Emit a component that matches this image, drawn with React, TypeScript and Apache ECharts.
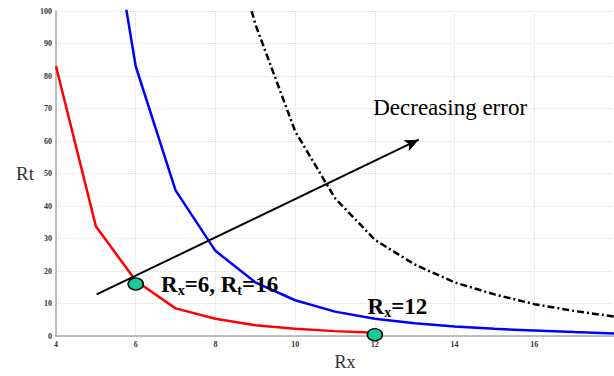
import React, { useEffect, useRef } from "react";
import * as echarts from "echarts";

const redCurve: [number, number][] = [
  [4, 83], [5, 33.8], [6, 17], [7, 8.5], [8, 5.3], [9, 3.3], [10, 2.2], [11, 1.5], [12, 1.0],
];
const blueCurve: [number, number][] = [
  [5, 157], [6, 83], [7, 44.8], [8, 26.2], [9, 16.5], [10, 11], [11, 7.5], [12, 5.3],
  [13, 3.9], [14, 2.9], [15, 2.2], [16, 1.7], [17, 1.2], [18, 0.8],
];
const blackCurve: [number, number][] = [
  [8, 140], [9, 96], [10, 63], [11, 42.4], [12, 29.6], [13, 22], [14, 16.5],
  [15, 12.8], [16, 9.8], [17, 7.7], [18, 6],
];
const arrowStart: [number, number] = [5.02, 12.8];
const arrowEnd: [number, number] = [13.1, 60.4];
const optimumPoints: [number, number][] = [[6, 16], [12, 0.4]];
const xTicks = { min: 4, max: 18, interval: 2 };
const yTicks = { min: 0, max: 100, interval: 10 };

const serif = "'Liberation Serif', 'DejaVu Serif', serif";

export default function App() {
  const ref = useRef<HTMLDivElement>(null);
  useEffect(() => {
    if (!ref.current) return;
    const chart = echarts.init(ref.current, undefined, { renderer: "svg" });
    const rich = {
      b: { fontFamily: serif, fontWeight: "bold", fontSize: 23, color: "#000" },
      s: { fontFamily: serif, fontWeight: "bold", fontSize: 14, color: "#000", padding: [12, 0, 0, 0] },
    };
    chart.setOption({
      animation: false,
      backgroundColor: "#fff",
      grid: { left: 56, right: -4, top: 11, bottom: 37 },
      xAxis: {
        type: "value",
        min: xTicks.min,
        max: xTicks.max,
        interval: xTicks.interval,
        name: "Rx",
        nameLocation: "middle",
        nameGap: 17,
        nameTextStyle: { fontFamily: serif, fontSize: 18, color: "#333", padding: [0, 0, 0, 20] },
        axisLine: { lineStyle: { color: "#aaa", width: 1.5 } },
        axisTick: { show: false },
        axisLabel: {
          margin: 4,
          fontFamily: serif,
          fontWeight: "bold",
          fontSize: 8,
          color: "#333",
          showMaxLabel: false,
        },
        splitLine: { lineStyle: { color: "#ddd", type: "dotted" } },
      },
      yAxis: {
        type: "value",
        min: yTicks.min,
        max: yTicks.max,
        interval: yTicks.interval,
        name: "Rt",
        nameLocation: "middle",
        nameRotate: 0,
        nameGap: 22,
        nameTextStyle: { fontFamily: serif, fontSize: 19, color: "#333", padding: [0, 0, 22, 0] },
        axisLine: { show: true, lineStyle: { color: "#aaa", width: 1.5 } },
        axisTick: { show: false },
        axisLabel: { margin: 4, fontFamily: serif, fontWeight: "bold", fontSize: 8, color: "#333" },
        splitLine: { lineStyle: { color: "#ddd", type: "dotted" } },
      },
      series: [
        {
          type: "line",
          data: blackCurve,
          symbol: "none",
          lineStyle: { color: "#000", width: 2.5, type: [7, 3, 2, 3] },
          clip: true,
          z: 3,
        },
        {
          type: "line",
          data: blueCurve,
          symbol: "none",
          lineStyle: { color: "#0000ff", width: 2.5 },
          clip: true,
          z: 3,
        },
        {
          type: "line",
          data: redCurve,
          symbol: "none",
          lineStyle: { color: "#ff0000", width: 2.5 },
          clip: true,
          z: 3,
        },
        {
          type: "line",
          data: [],
          markLine: {
            silent: true,
            animation: false,
            symbolSize: [9, 14],
            lineStyle: { color: "#000", width: 2, type: "solid" },
            label: {
              show: true,
              position: "end",
              formatter: "Decreasing error",
              fontFamily: serif,
              fontSize: 23,
              color: "#000",
              offset: [-50, -30],
            },
            data: [[
              { coord: arrowStart, symbol: "none" },
              { coord: arrowEnd, symbol: "arrow" },
            ]],
          },
          z: 4,
        },
        {
          type: "scatter",
          symbol: "circle",
          symbolSize: [15, 12],
          itemStyle: { color: "#14cc98", borderColor: "#000", borderWidth: 1.5, opacity: 1 },
          z: 5,
          labelLayout: { hideOverlap: false },
          data: [
            {
              value: optimumPoints[0],
              label: {
                show: true,
                position: "right",
                distance: 17,
                color: "#000",
                opacity: 1,
                formatter: "{b|R}{s|x}{b|=6, R}{s|t}{b|=16}",
                rich,
              },
            },
            {
              value: optimumPoints[1],
              label: {
                show: true,
                position: [1, -35],
                align: "left",
                verticalAlign: "top",
                color: "#000",
                opacity: 1,
                formatter: "{b|R}{s|x}{b|=12}",
                rich,
              },
            },
          ],
        },
      ],
    });
    return () => chart.dispose();
  }, []);
  return <div ref={ref} style={{ width: 614, height: 376, position: "absolute", left: 0, top: 0 }} />;
}
